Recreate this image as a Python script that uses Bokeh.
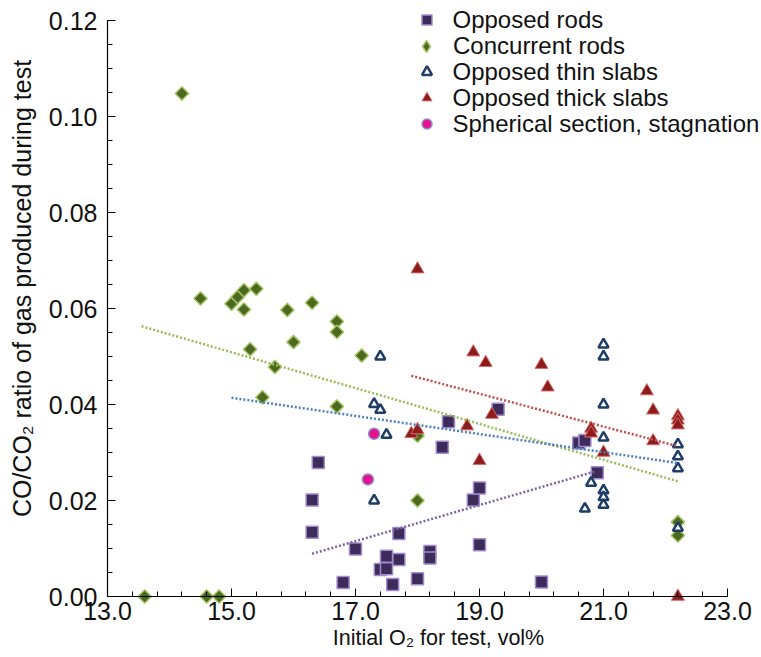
import math

from bokeh.embed import file_html
from bokeh.models import FixedTicker, Label, Legend, LegendItem, PrintfTickFormatter
from bokeh.plotting import figure
from bokeh.resources import INLINE

FONT = "Liberation Sans"

# --- measured points: initial O2 (vol%) vs CO/CO2 ratio ---------------------
opp_rods_x = [16.3, 16.3, 16.4, 16.8, 17.0, 17.4, 17.5, 17.5, 17.6, 17.7, 17.7, 18.0,
              18.2, 18.2, 18.4, 18.5, 18.9, 19.0, 19.0, 19.3, 20.0, 20.6, 20.7, 20.9]
opp_rods_y = [0.0201, 0.0134, 0.0279, 0.0029, 0.0099, 0.0056, 0.0058, 0.0084, 0.0025, 0.0077, 0.0131, 0.0037,
              0.0094, 0.0080, 0.0311, 0.0364, 0.0201, 0.0226, 0.0108, 0.0390, 0.0030, 0.0320, 0.0325, 0.0258]

conc_rods_x = [13.6, 14.2, 14.5, 14.6, 14.8, 15.0, 15.1, 15.2, 15.2, 15.3, 15.4, 15.5,
               15.7, 15.9, 16.0, 16.3, 16.7, 16.7, 16.7, 17.1, 18.0, 18.0, 22.2, 22.2]
conc_rods_y = [0.0, 0.1048, 0.0621, 0.0, 0.0, 0.0610, 0.0624, 0.0638, 0.0598, 0.0515, 0.0641, 0.0415,
               0.0478, 0.0597, 0.0530, 0.0612, 0.0573, 0.0551, 0.0396, 0.0502, 0.0335, 0.0200, 0.0155, 0.0127]

thin_x = [17.3, 17.3, 17.4, 17.4, 17.5, 20.7, 20.8, 21.0, 21.0, 21.0, 21.0, 21.0, 21.0, 21.0,
          22.2, 22.2, 22.2, 22.2]
thin_y = [0.0401, 0.0200, 0.0500, 0.0389, 0.0337, 0.0183, 0.0237, 0.0525, 0.0500, 0.0400, 0.0331, 0.0221,
          0.0207, 0.0191, 0.0317, 0.0292, 0.0267, 0.0143]

thick_x = [17.9, 18.0, 18.0, 18.8, 18.9, 19.0, 19.1, 19.2, 20.0, 20.1, 20.8, 20.8, 21.0, 21.7,
           21.8, 21.8, 22.2, 22.2, 22.2, 22.2]
thick_y = [0.0339, 0.0347, 0.0682, 0.0355, 0.0509, 0.0283, 0.0487, 0.0379, 0.0483, 0.0436, 0.0350, 0.0340,
           0.0300, 0.0428, 0.0388, 0.0324, 0.0376, 0.0367, 0.0357, 0.0]

sph_x = [17.2, 17.3]
sph_y = [0.0244, 0.0339]

# linear trend lines (end points)
trend_rods_x, trend_rods_y = [16.3, 20.85], [0.0089, 0.0260]
trend_conc_x, trend_conc_y = [13.55, 22.2], [0.0563, 0.0240]
trend_thin_x, trend_thin_y = [15.0, 22.2], [0.0414, 0.0278]
trend_thick_x, trend_thick_y = [17.9, 22.2], [0.0460, 0.0313]

labels = ["Opposed rods", "Concurrent rods", "Opposed thin slabs",
          "Opposed thick slabs", "Spherical section, stagnation"]
x_ticks = [13.0, 15.0, 17.0, 19.0, 21.0, 23.0]
y_ticks = [0.0, 0.02, 0.04, 0.06, 0.08, 0.10, 0.12]
x_title = "Initial O\u2082 for test, vol%"
y_title = "CO/CO\u2082 ratio of gas produced during test"

# The plotting area covers the whole canvas; both axes sit at fixed data
# positions inside it so that markers at zero are not clipped.
X_PX, Y_PX = 62.0, 4800.0          # pixels per data unit
X0_PX, Y0_PX = 107.0, 596.0        # pixel position of (13.0, 0.0)
W, H = 761, 657


def sx(px):
    return 13.0 + (px - X0_PX) / X_PX


def sy(py):
    return (Y0_PX - py) / Y_PX


p = figure(width=W, height=H, x_range=(sx(0), sx(W)), y_range=(sy(H), sy(0)),
           output_backend="svg", toolbar_location=None,
           min_border_left=0, min_border_right=0, min_border_top=0, min_border_bottom=0)
p.outline_line_color = None
p.xgrid.grid_line_color = None
p.ygrid.grid_line_color = None

xa = p.xaxis[0]
xa.fixed_location = 0.0
xa.bounds = (13.0, 23.0)
xa.ticker = FixedTicker(ticks=x_ticks, minor_ticks=[13.0 + 0.4 * i for i in range(26)])
xa.formatter = PrintfTickFormatter(format="%.1f")
xa.major_label_standoff = 5

ya = p.yaxis[0]
ya.fixed_location = 13.0
ya.bounds = (0.0, 0.12)
ya.ticker = FixedTicker(ticks=y_ticks, minor_ticks=[0.005 * i for i in range(25)])
ya.formatter = PrintfTickFormatter(format="%.2f")
ya.major_label_standoff = 10

for ax in (xa, ya):
    ax.axis_line_color = "black"
    ax.axis_line_width = 1.2
    ax.major_tick_in = 8
    ax.major_tick_out = 0
    ax.minor_tick_in = 5
    ax.minor_tick_out = 0
    ax.major_tick_line_color = "black"
    ax.minor_tick_line_color = "black"
    ax.major_label_text_font = FONT
    ax.major_label_text_font_size = "25px"
    ax.major_label_text_color = "#111111"

# axis titles
p.add_layout(Label(x=sx(438), y=sy(637), text=x_title,
                   text_align="center", text_baseline="alphabetic", text_font=FONT,
                   text_font_size="21.5px", text_color="#111111"))
p.add_layout(Label(x=sx(21), y=sy(288), text=y_title,
                   angle=math.pi / 2, text_align="center", text_baseline="alphabetic",
                   text_font=FONT, text_font_size="25px", text_color="#111111"))

# markers; the concurrent-rod diamonds get a plain diamond underneath the
# rotated squares, which serves as their legend key
r_rods = p.scatter(opp_rods_x, opp_rods_y, marker="square", size=12,
                   fill_color="#3d2b5a", line_color="#a08ccc", line_width=1.5)
r_conc_key = p.scatter(conc_rods_x, conc_rods_y, marker="diamond", size=10,
                       fill_color="#4c6a1f", line_color="#aac66a", line_width=1.5)
r_conc = p.scatter(conc_rods_x, conc_rods_y, marker="square", angle=math.pi / 4, size=9.5,
                   fill_color="#4c6a1f", line_color="#aac66a", line_width=1.5)
r_thick = p.scatter(thick_x, thick_y, marker="triangle", size=13,
                    fill_color="#8c1c1c", line_color="#d86a6a", line_width=1)
r_thin = p.scatter(thin_x, thin_y, marker="triangle", size=10,
                   fill_color="white", line_color="#1f3d66", line_width=2.5)
r_sph = p.scatter(sph_x, sph_y, marker="circle", size=11,
                  fill_color="#e5128a", line_color="#8e8cd8", line_width=1.5)

# dotted trend lines
for tx, ty, col in [(trend_conc_x, trend_conc_y, "#9bbb59"),
                    (trend_thin_x, trend_thin_y, "#4f81bd"),
                    (trend_thick_x, trend_thick_y, "#c0504d"),
                    (trend_rods_x, trend_rods_y, "#8064a2")]:
    p.line(tx, ty, line_color=col, line_width=2.5, line_dash="2 2")

# legend: one single-row legend per series, stacked 26 px apart
ROW_H = 27.75                      # height of one legend row at 24 px text
KEY_X = 426                        # centre of the legend keys
TEXT_X = 452.5                     # left edge of the legend texts
row_centres = [20, 46, 72, 98, 124]
series = [r_rods, r_conc_key, r_thin, r_thick, r_sph]
for lab, rend, c in zip(labels, series, row_centres):
    g = 30 if rend is r_conc_key else 25
    h = max(ROW_H, g)
    left = KEY_X - g / 2
    p.add_layout(Legend(items=[LegendItem(label=lab, renderers=[rend])],
                        location=(left, H - c - h / 2),
                        border_line_color=None, background_fill_alpha=0,
                        padding=0, margin=0, spacing=0, glyph_width=g, glyph_height=g,
                        label_height=25, label_standoff=round(TEXT_X - left - g),
                        label_text_font=FONT, label_text_font_size="24px",
                        label_text_color="#111111"))

open("out.html", "w").write(file_html(p, INLINE))
